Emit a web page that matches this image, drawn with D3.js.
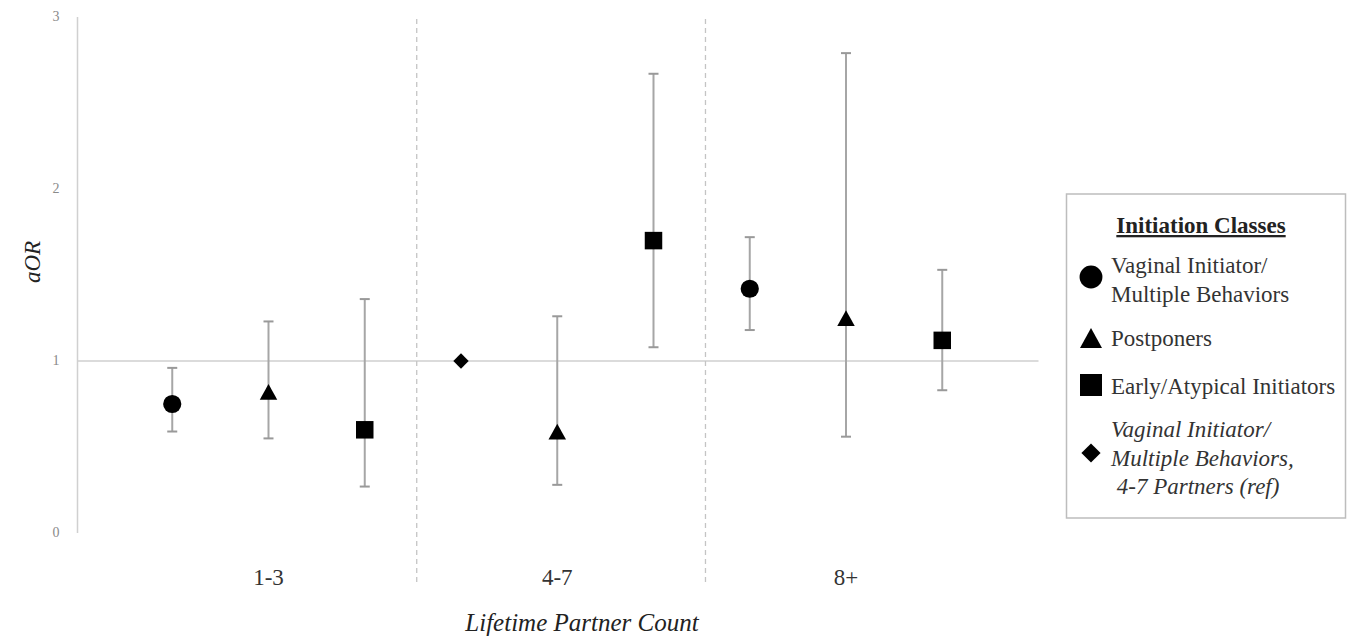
<!DOCTYPE html>
<html>
<head>
  <meta charset="utf-8">
  <title>aOR by lifetime partner count</title>
  <script src="https://d3js.org/d3.v7.min.js"></script>
  <style>
    body { margin: 0; background: #fff; }
    text { font-family: "Liberation Serif", "Times New Roman", serif; }
  </style>
</head>
<body>
  <div id="my_dataviz"></div>
  <script>
  // data
  var groupNames = ["1-3", "4-7", "8+"];
  var pointGroup = ["1-3", "1-3", "1-3", "4-7", "4-7", "4-7", "8+", "8+", "8+"];
  var pointClass = ["vi", "pp", "ea", "ref", "pp", "ea", "vi", "pp", "ea"];
  var aor    = [0.75, 0.82, 0.60, 1.00, 0.59, 1.70, 1.42, 1.25, 1.12];
  var ciLow  = [0.59, 0.55, 0.27, null, 0.28, 1.08, 1.18, 0.56, 0.83];
  var ciHigh = [0.96, 1.23, 1.36, null, 1.26, 2.67, 1.72, 2.79, 1.53];
  var yTicks = [0, 1, 2, 3];

  var legendKeys = ["vi", "pp", "ea", "ref"];
  var legendLabels = [
    ["Vaginal Initiator/", "Multiple Behaviors"],
    ["Postponers"],
    ["Early/Atypical Initiators"],
    ["Vaginal Initiator/", "Multiple Behaviors,", " 4-7 Partners (ref)"]
  ];

  var points = aor.map(function(v, i) {
    return { slot: i, group: pointGroup[i], cls: pointClass[i], v: v, lo: ciLow[i], hi: ciHigh[i] };
  });

  var W = 1357, H = 643;
  var svg = d3.select("#my_dataviz")
    .append("svg")
      .attr("width", W)
      .attr("height", H);

  svg.append("rect").attr("width", W).attr("height", H).attr("fill", "#fff");

  // scales
  var x = d3.scalePoint()
    .domain(points.map(function(d) { return d.slot; }))
    .range([76, 1038.5])
    .padding(1);
  var step = x.step();

  var y = d3.scaleLinear()
    .domain([0, 3])
    .range([533, 17]);

  // marker shapes (centred on the value)
  function shapePath(cls, s) {
    var p = d3.path();
    if (cls === "vi") {
      p.arc(0, 0, s * 0.52, 0, 2 * Math.PI);
    } else if (cls === "pp") {
      p.moveTo(0, -s * 0.45); p.lineTo(s * 0.5, s * 0.45); p.lineTo(-s * 0.5, s * 0.45); p.closePath();
    } else if (cls === "ea") {
      p.rect(-s * 0.5, -s * 0.5, s, s);
    } else {
      p.moveTo(0, -s * 0.48); p.lineTo(s * 0.48, 0); p.lineTo(0, s * 0.48); p.lineTo(-s * 0.48, 0); p.closePath();
    }
    return p.toString();
  }

  // y axis line
  svg.append("line")
    .attr("x1", 77.5).attr("x2", 77.5)
    .attr("y1", y(3)).attr("y2", y(0))
    .attr("stroke", "#d0d0d0").attr("stroke-width", 1.5);

  // reference line at aOR = 1
  svg.append("line")
    .attr("x1", 77.5).attr("x2", 1038.5)
    .attr("y1", y(1)).attr("y2", y(1))
    .attr("stroke", "#cfcfcf").attr("stroke-width", 1.5);

  // y tick labels
  svg.append("g").selectAll("text")
    .data(yTicks)
    .enter().append("text")
      .attr("x", 56)
      .attr("y", function(d) { return y(d) + 4; })
      .attr("text-anchor", "middle")
      .attr("fill", "#8a8a8a")
      .style("font-size", "14px")
      .text(function(d) { return d; });

  // group separators (dashed)
  [0, 1].forEach(function(gi) {
    var lastSlot = d3.max(points.filter(function(d) { return d.group === groupNames[gi]; }), function(d) { return d.slot; });
    var sx = x(lastSlot) + step * 0.54;
    svg.append("line")
      .attr("x1", sx).attr("x2", sx)
      .attr("y1", 19).attr("y2", 583)
      .attr("stroke", "#c4c4c4").attr("stroke-width", 1.3)
      .attr("stroke-dasharray", "5,4");
  });

  // group labels
  svg.append("g").selectAll("text")
    .data(groupNames)
    .enter().append("text")
      .attr("x", function(g) {
        return d3.mean(points.filter(function(d) { return d.group === g; }), function(d) { return x(d.slot); });
      })
      .attr("y", 585)
      .attr("text-anchor", "middle")
      .attr("fill", "#333")
      .style("font-size", "23px")
      .text(function(g) { return g; });

  // error bars
  var withCi = points.filter(function(d) { return d.lo !== null; });
  var eb = svg.append("g").selectAll("g")
    .data(withCi)
    .enter().append("g");
  eb.append("line")
    .attr("x1", function(d) { return x(d.slot); })
    .attr("x2", function(d) { return x(d.slot); })
    .attr("y1", function(d) { return y(d.lo); })
    .attr("y2", function(d) { return y(d.hi); })
    .attr("stroke", "#a6a6a6").attr("stroke-width", 2);
  ["lo", "hi"].forEach(function(k) {
    eb.append("line")
      .attr("x1", function(d) { return x(d.slot) - 5; })
      .attr("x2", function(d) { return x(d.slot) + 5; })
      .attr("y1", function(d) { return y(d[k]); })
      .attr("y2", function(d) { return y(d[k]); })
      .attr("stroke", "#999").attr("stroke-width", 2);
  });

  // markers
  svg.append("g").selectAll("path")
    .data(points)
    .enter().append("path")
      .attr("transform", function(d) { return "translate(" + x(d.slot) + "," + y(d.v) + ")"; })
      .attr("d", function(d) { return shapePath(d.cls, d.cls === "ref" ? 16 : 17.5); })
      .attr("fill", "#000");

  // axis titles
  svg.append("text")
    .attr("transform", "translate(40,262) rotate(-90)")
    .attr("text-anchor", "middle")
    .attr("fill", "#222")
    .style("font-size", "23px")
    .style("font-style", "italic")
    .text("aOR");

  svg.append("text")
    .attr("x", 582)
    .attr("y", 631)
    .attr("text-anchor", "middle")
    .attr("fill", "#222")
    .style("font-size", "25px")
    .style("font-style", "italic")
    .text("Lifetime Partner Count");

  // legend
  var lg = svg.append("g");
  lg.append("rect")
    .attr("x", 1066.5).attr("y", 194)
    .attr("width", 279).attr("height", 324)
    .attr("fill", "#fff")
    .attr("stroke", "#bdbdbd").attr("stroke-width", 1.5);

  lg.append("text")
    .attr("x", 1201).attr("y", 233)
    .attr("text-anchor", "middle")
    .attr("fill", "#222")
    .style("font-size", "23px")
    .style("font-weight", "bold")
    .style("text-decoration", "underline")
    .text("Initiation Classes");

  var markerY = [277, 338, 385, 453];
  var firstBase = [273, 346, 394, 437];
  legendKeys.forEach(function(k, i) {
    lg.append("path")
      .attr("transform", "translate(1091," + markerY[i] + ")")
      .attr("d", shapePath(k, k === "ref" ? 20 : 22))
      .attr("fill", "#000");
    var t = lg.append("text")
      .attr("x", 1111)
      .attr("y", firstBase[i])
      .attr("fill", "#333")
      .style("font-size", "23px")
      .style("font-style", k === "ref" ? "italic" : "normal");
    legendLabels[i].forEach(function(line, j) {
      t.append("tspan")
        .attr("x", 1111)
        .attr("dy", j === 0 ? 0 : 28.5)
        .attr("xml:space", "preserve")
        .style("white-space", "pre")
        .text(line);
    });
  });
  </script>
</body>
</html>
